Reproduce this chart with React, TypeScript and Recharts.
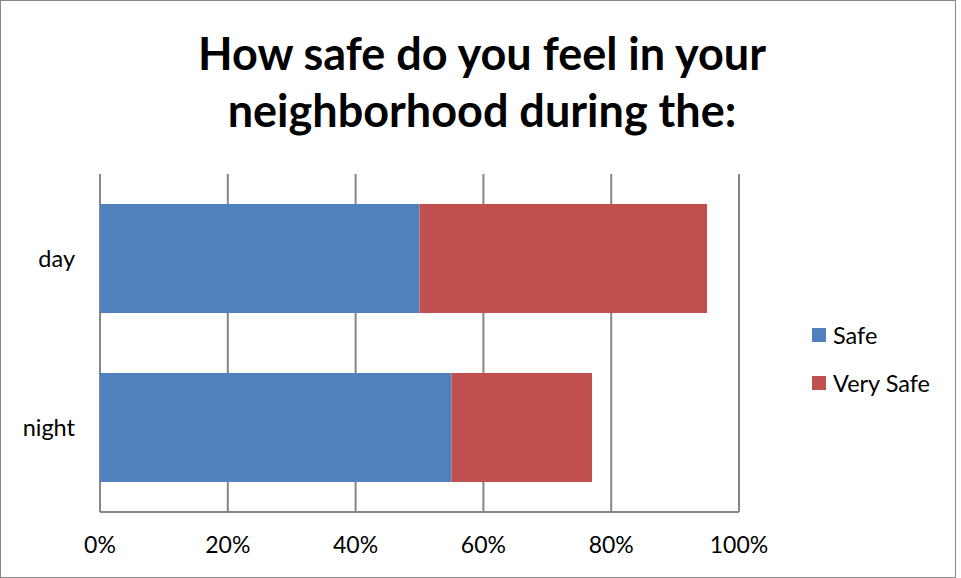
import React from 'react';
import { BarChart, Bar, XAxis, YAxis, CartesianGrid, Legend } from 'recharts';

const categories = ['day', 'night'];
const safeValues = [0.5, 0.55];
const verySafeValues = [0.45, 0.22];
const xTicks = [0, 0.2, 0.4, 0.6, 0.8, 1];
const seriesNames = ['Safe', 'Very Safe'];
const seriesColors = ['#4F81BD', '#C0504D'];

const data = categories.map((name, i) => ({
  name,
  safe: safeValues[i],
  verySafe: verySafeValues[i],
}));

const FONT = 'Lato, "Open Sans", sans-serif';

const LegendBox = () => (
  <div style={{ fontFamily: FONT, fontSize: 23.5, color: '#000' }}>
    {seriesNames.map((s, i) => (
      <div key={s} style={{ display: 'flex', alignItems: 'center', height: 48 }}>
        <span style={{ width: 14, height: 14, background: seriesColors[i], marginRight: 7 }} />
        <span>{s}</span>
      </div>
    ))}
  </div>
);

const App: React.FC = () => {
  return (
    <div
      style={{
        position: 'absolute',
        left: 0,
        top: 0,
        width: 954,
        height: 576,
        border: '1px solid #888',
        background: '#fff',
      }}
    >
      <div
        style={{
          position: 'absolute',
          left: 0,
          top: 24,
          width: 962,
          textAlign: 'center',
          fontFamily: FONT,
          fontWeight: 'bold',
          fontSize: 45,
          lineHeight: '57px',
          color: '#000',
        }}
      >
        How safe do you feel in your
        <br />
        neighborhood during the:
      </div>
      <BarChart
        width={954}
        height={576}
        data={data}
        layout="vertical"
        barCategoryGap="17.75%"
        margin={{ top: 173, right: 216, bottom: 0, left: 0 }}
      >
        <CartesianGrid horizontal={false} stroke="#868686" strokeWidth={2} />
        <XAxis
          type="number"
          domain={[0, 1]}
          ticks={xTicks}
          tickFormatter={(v: number) => `${Math.round(v * 100)}%`}
          height={65}
          axisLine={{ stroke: '#868686', strokeWidth: 2 }}
          tickLine={false}
          tickSize={0}
          tickMargin={25}
          tick={{ fill: '#000', fontSize: 23, fontFamily: FONT }}
        />
        <YAxis
          type="category"
          dataKey="name"
          width={99}
          axisLine={false}
          tickLine={false}
          tickSize={0}
          tickMargin={25}
          tick={{ fill: '#000', fontSize: 23.5, fontFamily: FONT }}
        />
        <Legend
          layout="vertical"
          align="center"
          verticalAlign="middle"
          wrapperStyle={{ left: 811, top: 310, width: 150 }}
          content={() => <LegendBox />}
        />
        <Bar dataKey="safe" name="Safe" stackId="a" fill={seriesColors[0]} isAnimationActive={false} />
        <Bar dataKey="verySafe" name="Very Safe" stackId="a" fill={seriesColors[1]} isAnimationActive={false} />
      </BarChart>
    </div>
  );
};

export default App;
